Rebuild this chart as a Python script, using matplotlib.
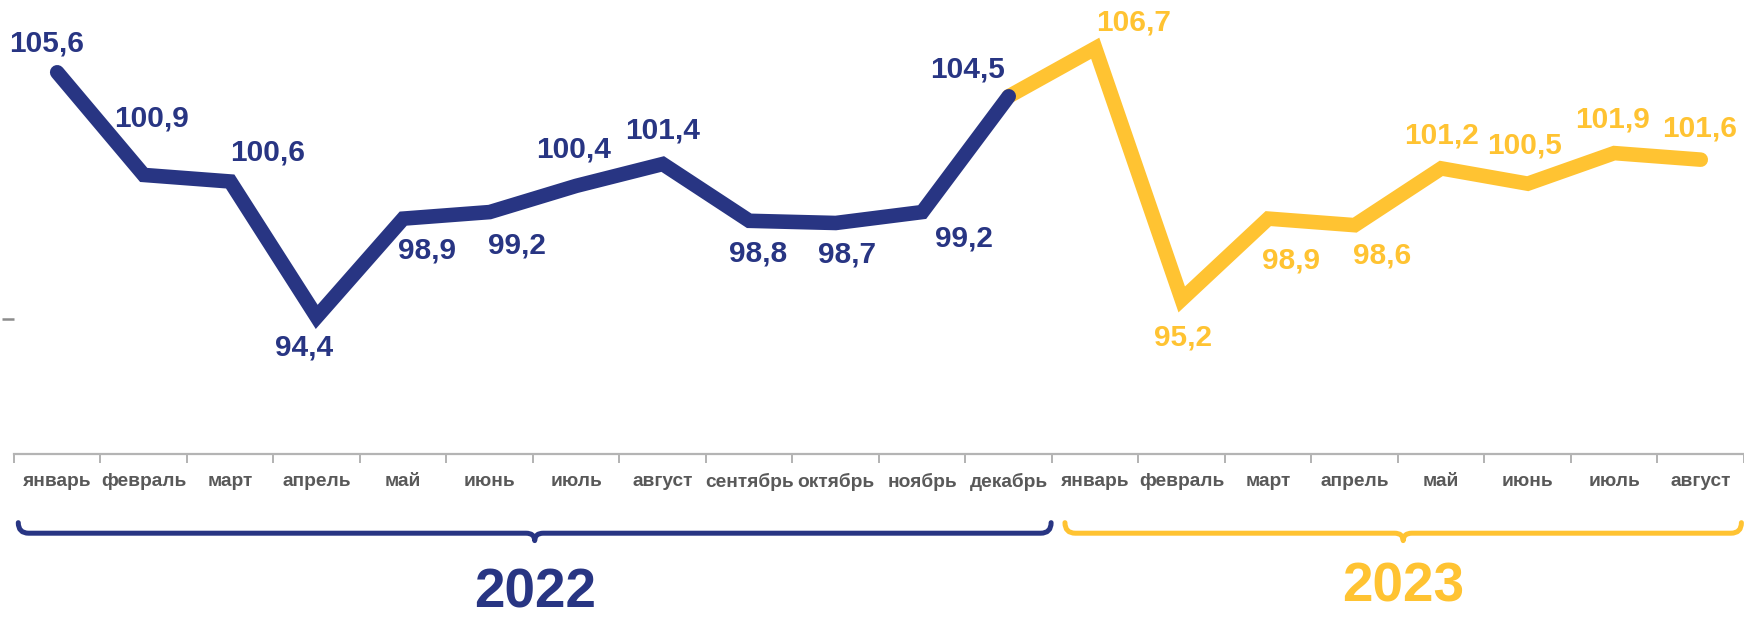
import numpy as np
import matplotlib
matplotlib.use("Agg")
import matplotlib.pyplot as plt
from matplotlib import font_manager
from matplotlib.path import Path
from matplotlib.patches import PathPatch
from matplotlib.transforms import blended_transform_factory

# font: narrow bold if we have it
names = {f.name for f in font_manager.fontManager.ttflist}
NARROW = 'Liberation Sans Narrow' in names
FONT = 'Liberation Sans Narrow' if NARROW else 'Liberation Sans'
plt.rcParams['font.family'] = [FONT, 'DejaVu Sans']

# data
months = ["январь", "февраль", "март", "апрель", "май", "июнь", "июль", "август",
          "сентябрь", "октябрь", "ноябрь", "декабрь",
          "январь", "февраль", "март", "апрель", "май", "июнь", "июль", "август"]
values_2022 = [105.6, 100.9, 100.6, 94.4, 98.9, 99.2, 100.4, 101.4, 98.8, 98.7, 99.2, 104.5]
values_2023 = [106.7, 95.2, 98.9, 98.6, 101.2, 100.5, 101.9, 101.6]
years = ["2022", "2023"]

# label offsets (pixels) for each point
off_2022 = [(-11, 29), (8, 56), (37, 29), (-13, -31), (24, -32), (27, -33),
            (-3, 36), (0, 34), (9, -33), (11, -32), (42, -26), (-41, 27)]
off_2023 = [(38, 26), (1, -38), (23, -42), (27, -30), (0, 33), (-3, 38), (-2, 34), (-1, 31)]

NAVY = '#283583'
YELLOW = '#FFC332'

# sizes (regular width font is wider, so a bit smaller)
fs_val = 24.5 if NARROW else 21.5
fs_tick = 15.5 if NARROW else 13.8
fs_year = 45 if NARROW else 39.5

fig = plt.figure(figsize=(17.44, 6.2), dpi=100)
ax = fig.add_axes([0.008, 0.268, 0.992, 0.732])

x22 = np.arange(len(values_2022))
x23 = np.arange(len(values_2022) - 1, len(months))
y23 = [values_2022[-1]] + values_2023

ax.plot(x23, y23, color=YELLOW, lw=10.5, solid_capstyle='round', solid_joinstyle='miter', zorder=2)
ax.plot(x22, values_2022, color=NAVY, lw=10.5, solid_capstyle='round', solid_joinstyle='miter', zorder=3)

def fmt(v):
    return f"{v:.1f}".replace('.', ',')

for xi, v, (dx, dy) in zip(x22, values_2022, off_2022):
    ax.annotate(fmt(v), (xi, v), xytext=(dx, dy), textcoords='offset pixels',
                ha='center', va='center', fontsize=fs_val, fontweight='bold', color=NAVY)
for xi, v, (dx, dy) in zip(x23[1:], values_2023, off_2023):
    ax.annotate(fmt(v), (xi, v), xytext=(dx, dy), textcoords='offset pixels',
                ha='center', va='center', fontsize=fs_val, fontweight='bold', color=YELLOW)

ax.set_xlim(-0.5, len(months) - 0.5)
ax.set_ylim(88.13, 108.91)
for s in ['top', 'right', 'left']:
    ax.spines[s].set_visible(False)
ax.spines['bottom'].set_color('#b4b4b4')
ax.spines['bottom'].set_linewidth(1.6)

ax.set_xticks(np.arange(len(months)))
ax.set_xticklabels(months, fontsize=fs_tick, fontweight='bold', color='#595959')
ax.set_xticks(np.arange(len(months) + 1) - 0.5, minor=True)
ax.tick_params(axis='x', which='major', length=0, pad=14)
ax.tick_params(axis='x', which='minor', length=6.5, width=1.2, color='#a6a6a6')
ax.set_yticks([94.3])
ax.set_yticklabels([])
ax.tick_params(axis='y', length=9, width=1.8, color='#8c8c8c')

# braces under the axis
tr = blended_transform_factory(ax.transData, fig.transFigure)

def brace(x0, x1, color):
    xc = (x0 + x1) / 2
    bar, top, dip = 0.140, 0.157, 0.128
    verts = [(x0, top), (x0, bar), (x0 + 0.12, bar),
             (xc - 0.1, bar), (xc, bar), (xc, dip),
             (xc, bar), (xc + 0.1, bar),
             (x1 - 0.12, bar), (x1, bar), (x1, top)]
    codes = [Path.MOVETO, Path.CURVE3, Path.CURVE3,
             Path.LINETO, Path.CURVE3, Path.CURVE3,
             Path.CURVE3, Path.CURVE3,
             Path.LINETO, Path.CURVE3, Path.CURVE3]
    p = PathPatch(Path(verts, codes), transform=tr, fill=False, edgecolor=color,
                  lw=3.6, capstyle='round', joinstyle='round', clip_on=False)
    fig.add_artist(p)
    return xc

c22 = brace(-0.45, 11.49, NAVY)
c23 = brace(11.65, 19.47, YELLOW)

fig.text(c22, 0.043, years[0], transform=tr, ha='center', va='center',
         fontsize=fs_year, fontweight='bold', color=NAVY)
fig.text(c23, 0.053, years[1], transform=tr, ha='center', va='center',
         fontsize=fs_year, fontweight='bold', color=YELLOW)

fig.savefig("out.png", dpi=100)
